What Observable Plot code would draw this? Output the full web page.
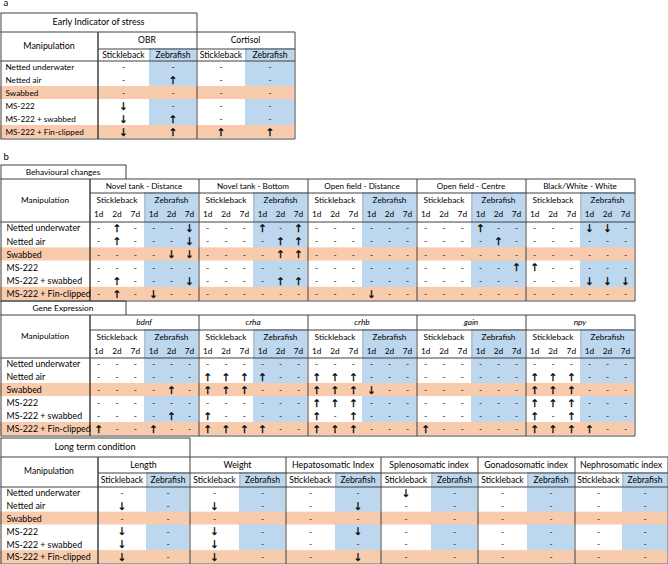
<!DOCTYPE html>
<html><head><meta charset="utf-8">
<script src="https://cdn.jsdelivr.net/npm/d3@7"></script>
<script src="https://cdn.jsdelivr.net/npm/@observablehq/plot@0.6"></script>
<style>body{margin:0;background:#fff}#chart svg{display:block}</style>
</head><body><div id="chart"></div>
<script>
// ---------------- DATA ----------------
const panelLabels = ["a", "b"];
const sectionTitles = ["Early Indicator of stress", "Behavioural changes", "Gene Expression", "Long term condition"];
const manipulationHeader = "Manipulation";
const manipulations = ["Netted underwater", "Netted air", "Swabbed", "MS-222", "MS-222 + swabbed", "MS-222 + Fin-clipped"];
const highlighted = ["Swabbed", "MS-222 + Fin-clipped"];
const speciesNames = ["Stickleback", "Zebrafish"];
const dayLabels = ["1d", "2d", "7d"];

// Panel a: per manipulation -> OBR(Stk,Zf) Cortisol(Stk,Zf)
const stressMeasures = ["OBR", "Cortisol"];
const stressValues = [
  "-- --",
  "-↑ --",
  "-- --",
  "↓- --",
  "↓↑ --",
  "↓↑ ↑↑"
];

// Behaviour: per manipulation, per test: Stk 1d 2d 7d | Zf 1d 2d 7d
const behaviourTests = ["Novel tank - Distance", "Novel tank - Bottom", "Open field - Distance", "Open field - Centre", "Black/White - White"];
const behaviourValues = [
  ["-↑- --↓", "--- ↑-↑", "--- ---", "--- ↑--", "--- ↓↓-"],
  ["-↑- --↓", "--- -↑↑", "--- ---", "--- -↑-", "--- ---"],
  ["--- -↓↓", "--- -↑↑", "--- ---", "--- ---", "--- ---"],
  ["--- ---", "--- ---", "--- ---", "--- --↑", "↑-- ---"],
  ["-↑- --↓", "--- -↑↑", "--- ---", "--- ---", "--- ↓↓↓"],
  ["-↑- ↓--", "--- ---", "--- ↓--", "--- ---", "--- ---"]
];

// Gene expression: per manipulation, per gene: Stk 1d 2d 7d | Zf 1d 2d 7d
const genes = ["bdnf", "crha", "crhb", "gain", "npy"];
const geneValues = [
  ["--- ---", "--- ---", "--- ---", "--- ---", "--- ---"],
  ["--- ---", "↑↑↑ ↑--", "↑↑↑ ---", "--- ---", "↑↑↑ ---"],
  ["--- -↑-", "↑↑↑ ---", "↑↑↑ ↓--", "--- ---", "↑↑↑ ---"],
  ["--- ---", "--- ---", "↑↑↑ ---", "--- ---", "↑↑↑ ---"],
  ["--- -↑-", "↑-- ---", "↑-↑ ---", "--- ---", "↑-↑ ---"],
  ["↑-- ↑--", "↑↑↑ ↑--", "↑↑↑ ---", "↑-- ---", "↑↑↑ ↑--"]
];

// Long term: per manipulation, per measure: Stk Zf
const longTermMeasures = ["Length", "Weight", "Hepatosomatic Index", "Splenosomatic index", "Gonadosomatic index", "Nephrosomatic index"];
const longTermValues = [
  ["--", "--", "--", "↓-", "--", "--"],
  ["↓-", "↓-", "-↓", "--", "--", "--"],
  ["--", "--", "--", "--", "--", "--"],
  ["↓-", "↓-", "-↓", "--", "--", "--"],
  ["↓-", "↓-", "--", "--", "--", "--"],
  ["↓-", "↓-", "-↓", "--", "--", "--"]
];

// ---------------- LAYOUT ----------------
const W = 668, H = 564;
const BLUE = "#bdd7ee", ORANGE = "#f8cbad", DARK = "#404040", LIGHT = "#9a9a9a";
const FONT = "Lato, 'Open Sans', sans-serif";

const rects = [], lines = [], texts = [], italics = [], symbols = [], leftTexts = [];

function flat(rowArr) { return [].concat(...rowArr).join("").replace(/\s/g, "").split(""); }

function addTable(L, rowsValues, groupLabels, italicGroups) {
  const nB = groupLabels.length;
  const right = L.edges[nB];
  const headBottom = L.days ? L.h3 : L.h2;
  const rowH = (L.bottom - headBottom) / manipulations.length;
  const p = v => Math.round(v) + 0.5;
  L.splits.forEach((s, b) => rects.push({x1: s, x2: L.edges[b + 1], y1: L.h1, y2: L.bottom, fill: BLUE}));
  manipulations.forEach((m, i) => {
    if (highlighted.includes(m)) rects.push({x1: 0, x2: right, y1: headBottom + i * rowH, y2: headBottom + (i + 1) * rowH, fill: ORANGE});
  });
  L.splits.forEach(s => lines.push({x1: p(s), x2: p(s), y1: L.h1, y2: headBottom, stroke: LIGHT, w: 0.6}));
  const [bx0, bx1, by0, by1] = L.box;
  lines.push({x1: bx0, x2: p(bx1), y1: p(by0), y2: p(by0), stroke: DARK, w: 1});
  lines.push({x1: p(bx1), x2: p(bx1), y1: p(by0), y2: p(L.top), stroke: DARK, w: 1});
  lines.push({x1: 0.5, x2: 0.5, y1: p(by0), y2: p(L.bottom), stroke: DARK, w: 1});
  lines.push({x1: 0, x2: p(right), y1: p(L.top), y2: p(L.top), stroke: DARK, w: 1});
  lines.push({x1: p(L.manipRight), x2: p(right), y1: p(L.h1), y2: p(L.h1), stroke: DARK, w: 1});
  lines.push({x1: 0, x2: p(right), y1: p(headBottom), y2: p(headBottom), stroke: DARK, w: 1});
  lines.push({x1: 0, x2: p(right), y1: p(L.bottom), y2: p(L.bottom), stroke: DARK, w: 1});
  lines.push({x1: p(L.manipRight), x2: p(L.manipRight), y1: p(L.top), y2: p(L.bottom), stroke: DARK, w: 1});
  L.edges.forEach(e => lines.push({x1: p(e), x2: p(e), y1: p(L.top), y2: p(L.bottom), stroke: DARK, w: 1}));
  texts.push({x: (bx0 + bx1) / 2, y: (by0 + by1) / 2 + 0.5, text: L.title, size: L.titleFs});
  texts.push({x: L.manipRight / 2, y: (L.top + headBottom) / 2, text: manipulationHeader, size: L.manipFs});
  groupLabels.forEach((g, b) => {
    const t = {x: (L.edges[b] + L.edges[b + 1]) / 2, y: (L.top + L.h1) / 2 + 0.5, text: g, size: L.groupFs};
    (italicGroups ? italics : texts).push(t);
    const spans = [[L.edges[b], L.splits[b]], [L.splits[b], L.edges[b + 1]]];
    spans.forEach(([a, c], s) => {
      texts.push({x: (a + c) / 2, y: (L.h1 + L.h2) / 2 + 0.5, text: speciesNames[s], size: L.headFs});
      if (L.days) dayLabels.forEach((d, k) => texts.push({x: a + (c - a) * (k + 0.5) / 3, y: (L.h2 + L.h3) / 2 + 0.5, text: d, size: L.headFs}));
    });
  });
  manipulations.forEach((m, i) => {
    const cy = headBottom + (i + 0.5) * rowH + 0.5;
    leftTexts.push({x: L.labelX, y: cy, text: m, size: L.fs});
    const vals = flat([rowsValues[i]]);
    const per = L.days ? 3 : 1;
    let k = 0;
    groupLabels.forEach((g, b) => {
      const spans = [[L.edges[b], L.splits[b]], [L.splits[b], L.edges[b + 1]]];
      spans.forEach(([a, c]) => {
        for (let d = 0; d < per; d++) {
          const v = vals[k++];
          symbols.push({x: a + (c - a) * (d + 0.5) / per, y: cy, text: v, arrow: v !== "-"});
        }
      });
    });
  });
}

addTable({title: sectionTitles[0], box: [0, 196, 12, 31], top: 31, h1: 48, h2: 60, days: false, bottom: 138,
  manipRight: 97, edges: [97, 196, 294], splits: [149, 245], labelX: 5,
  fs: 8.2, titleFs: 9.0, headFs: 8.6, groupFs: 8.6, manipFs: 8.9},
  stressValues, stressMeasures, false);
const bEdges = d3.range(6).map(i => 89 + 109 * i);
addTable({title: sectionTitles[1], box: [0, 125, 164, 178], top: 178, h1: 192, h2: 206, h3: 221, days: true, bottom: 300,
  manipRight: 89, edges: bEdges, splits: bEdges.slice(0, 5).map(e => e + 55), labelX: 6,
  fs: 8.8, titleFs: 8.3, headFs: 8.3, groupFs: 8.1, manipFs: 8.3},
  behaviourValues, behaviourTests, false);
addTable({title: sectionTitles[2], box: [0, 125, 300, 314], top: 314, h1: 329, h2: 343, h3: 357, days: true, bottom: 435,
  manipRight: 89, edges: bEdges, splits: bEdges.slice(0, 5).map(e => e + 55), labelX: 6,
  fs: 8.8, titleFs: 8.3, headFs: 8.3, groupFs: 8.3, manipFs: 8.3},
  geneValues, genes, true);
addTable({title: sectionTitles[3], box: [0, 189, 437, 456], top: 456, h1: 472, h2: 486, days: false, bottom: 563,
  manipRight: 97, edges: [97, 189, 285, 380, 477, 574, 667], splits: [146, 239, 335, 431, 527, 622], labelX: 6,
  fs: 8.8, titleFs: 9.2, headFs: 8.6, groupFs: 8.8, manipFs: 8.6},
  longTermValues, longTermMeasures, false);

const panelPos = [{x: 3, y: 2}, {x: 3, y: 156}];
const panelTexts = panelLabels.map((t, i) => ({...panelPos[i], text: t}));

const chart = Plot.plot({
  width: W, height: H, margin: 0,
  x: {domain: [0, W], range: [0, W], axis: null},
  y: {domain: [0, H], range: [0, H], axis: null},
  color: {type: "identity"},
  marks: [
    Plot.rect(rects, {x1: "x1", x2: "x2", y1: "y1", y2: "y2", fill: "fill"}),
    Plot.link(lines, {x1: "x1", x2: "x2", y1: "y1", y2: "y2", stroke: "stroke", strokeWidth: "w"}),
    Plot.text(texts, {x: "x", y: "y", text: "text", fontSize: "size", fontFamily: FONT, fill: "#000"}),
    Plot.text(italics, {x: "x", y: "y", text: "text", fontSize: "size", fontFamily: FONT, fontStyle: "italic", fill: "#000"}),
    Plot.text(leftTexts, {x: "x", y: "y", text: "text", fontSize: "size", fontFamily: FONT, textAnchor: "start", fill: "#000"}),
    Plot.text(symbols.filter(d => !d.arrow), {x: "x", y: "y", text: "text", fontSize: 8.5, fontFamily: FONT, fill: "#333"}),
    Plot.text(symbols.filter(d => d.arrow), {x: "x", y: "y", text: "text", fontSize: 10.5, fontFamily: "'DejaVu Sans', sans-serif", fill: "#000", stroke: "#000", strokeWidth: 0.3}),
    Plot.text(panelTexts, {x: "x", y: "y", text: "text", fontSize: 9.5, fontFamily: FONT, textAnchor: "start", fill: "#000"})
  ]
});
document.getElementById("chart").appendChild(chart);
</script>
</body></html>
